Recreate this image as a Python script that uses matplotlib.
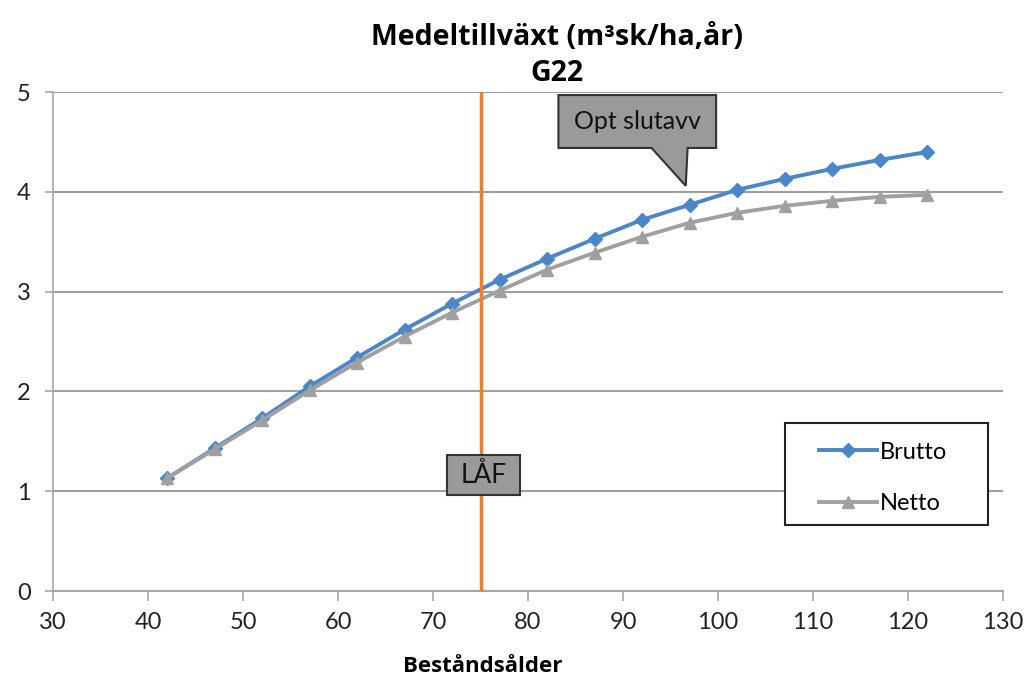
import matplotlib.pyplot as plt
from matplotlib.patches import Polygon, Rectangle

age = [42, 47, 52, 57, 62, 67, 72, 77, 82, 87, 92, 97, 102, 107, 112, 117, 122]
brutto = [1.13, 1.43, 1.73, 2.05, 2.34, 2.62, 2.88, 3.12, 3.33, 3.53, 3.72, 3.87, 4.02, 4.13, 4.23, 4.32, 4.40]
netto = [1.13, 1.42, 1.71, 2.01, 2.29, 2.55, 2.79, 3.01, 3.22, 3.39, 3.55, 3.69, 3.79, 3.86, 3.91, 3.95, 3.97]
laf_age = 75
x_ticks = list(range(30, 131, 10))
y_ticks = [0, 1, 2, 3, 4, 5]

fnt = ['Lato', 'DejaVu Sans']
bold_fnt = ['Open Sans', 'DejaVu Sans']

fig = plt.figure(figsize=(10.26, 6.77), dpi=100)
ax = fig.add_axes([0.0517, 0.127, 0.9259, 0.737])

ax.plot(age, brutto, color='#4a86c8', lw=2.8, marker='D', ms=7, label='Brutto')
ax.plot(age, netto, color='#a0a0a0', lw=2.8, marker='^', ms=9, label='Netto')
ax.axvline(laf_age, color='#ed7d31', lw=2.5, zorder=3)

ax.set_xlim(30, 130)
ax.set_ylim(0, 5)
ax.set_xticks(x_ticks)
ax.set_yticks(y_ticks)
ax.yaxis.grid(True, color='#a0a0a0', lw=1.5)
ax.set_axisbelow(True)
for s in ['top', 'right']:
    ax.spines[s].set_visible(False)
ax.spines['left'].set_color('#a6a6a6')
ax.spines['bottom'].set_color('#a6a6a6')
ax.spines['left'].set_linewidth(1.2)
ax.spines['bottom'].set_linewidth(1.5)
ax.tick_params(axis='x', colors='#a6a6a6', length=7, width=1.2, labelcolor='#222222', labelsize=17, pad=8)
ax.tick_params(axis='y', colors='#a6a6a6', length=6, width=1.2, labelcolor='#222222', labelsize=17, pad=10)
for lab in ax.get_xticklabels() + ax.get_yticklabels():
    lab.set_family(fnt)

fig.text(0.543, 0.945, 'Medeltillväxt (m³sk/ha,år)', ha='center', va='center',
         fontsize=20.5, fontweight='bold', family=bold_fnt)
fig.text(0.543, 0.892, 'G22', ha='center', va='center',
         fontsize=20.5, fontweight='bold', family=bold_fnt)
fig.text(0.470, 0.0148, 'Beståndsålder', ha='center', va='center',
         fontsize=16, fontweight='bold', family=bold_fnt)

# LÅF label box
box = Rectangle((71.5, 0.96), 7.7, 0.4, facecolor='#9a9a9a', edgecolor='#333333', lw=1.5, zorder=5)
ax.add_patch(box)
ax.text(75.35, 1.16, 'LÅF', ha='center', va='center', fontsize=19,
        family=fnt, color='#111111', zorder=6)

# Opt slutavv callout
call = Polygon([(83.2, 4.97), (99.8, 4.97), (99.8, 4.44), (96.8, 4.44), (96.6, 4.06),
                (93.0, 4.44), (83.2, 4.44)], closed=True,
               facecolor='#9a9a9a', edgecolor='#333333', lw=1.5, zorder=5, clip_on=False)
ax.add_patch(call)
ax.text(91.5, 4.71, 'Opt slutavv', ha='center', va='center', fontsize=18,
        family=fnt, color='#111111', zorder=6)

# legend frame drawn separately to get Excel-like padding
ax.add_patch(Rectangle((0.7705, 0.1323), 0.2137, 0.2044, transform=ax.transAxes,
                       facecolor='white', edgecolor='#222222', lw=1.5, zorder=6, clip_on=False))
leg = ax.legend(loc='center left', bbox_to_anchor=(0.806, 0.2265), frameon=False,
                borderpad=0, labelspacing=1.3, handlelength=2.45, handletextpad=0.15,
                borderaxespad=0, prop={'family': fnt, 'size': 17})
leg.set_zorder(7)

fig.savefig('out.png', dpi=100)
